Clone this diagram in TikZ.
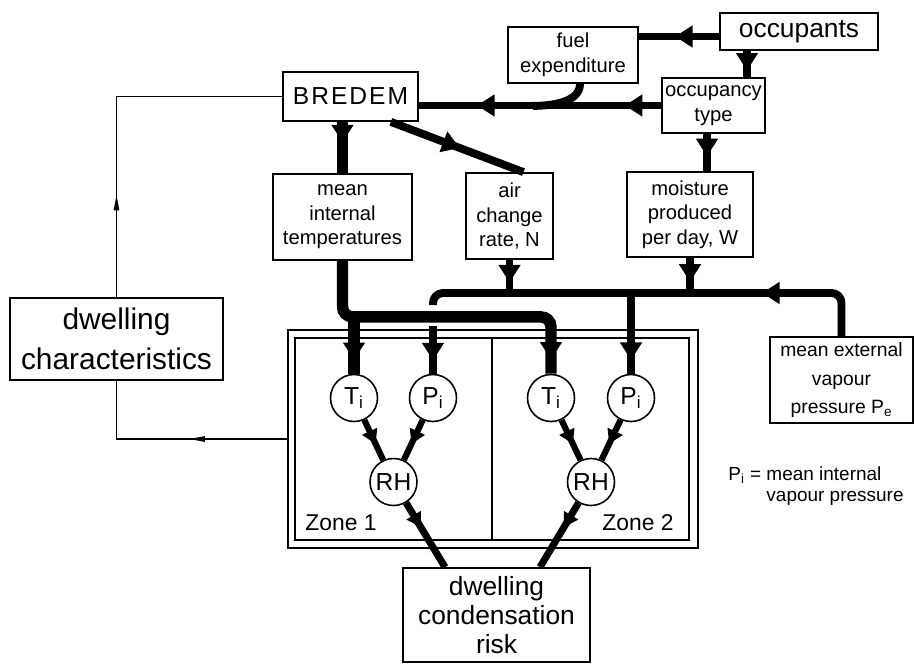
\documentclass[tikz,border=0pt]{standalone}
\usepackage{fontspec}
\setmainfont{Liberation Sans}
\newfontfamily\spacedfont{Liberation Sans}[LetterSpace=8]
\usetikzlibrary{arrows.meta, positioning, calc, decorations.markings}
\newcommand{\lowidx}[1]{\textsubscript{#1}}
\newcommand{\fsz}[2]{\fontsize{#1}{#2}\selectfont}

\begin{document}
\begin{tikzpicture}[
  x=0.02cm, y=-0.02cm,
  box/.style={rectangle, draw, line width=1pt, align=center, inner sep=1pt, font=\fsz{11.5}{14}},
  circ/.style={circle, draw, line width=0.9pt, minimum size=0.94cm, inner sep=0pt, font=\fsz{14}{15}},
  flow/.style={draw, line width=4.5pt},
  heavy/.style={draw, line width=6.5pt},
  link/.style={draw, line width=3.5pt},
  thinline/.style={draw, line width=0.9pt},
  mid/.style={postaction={decorate, decoration={markings, mark=at position #1 with {\arrow{Triangle[length=10pt, width=12pt]}}}}},
  midsm/.style={postaction={decorate, decoration={markings, mark=at position #1 with {\arrow{Triangle[length=8pt, width=9pt]}}}}},
  midthin/.style={postaction={decorate, decoration={markings, mark=at position #1 with {\arrow{Triangle[length=9pt, width=3pt]}}}}}
]
\useasboundingbox (0,0) rectangle (915,664);
% boxes
\node[box, font=\fsz{15}{16}, minimum width=3.16cm, minimum height=0.74cm] (occ) at (799,31.5) {occupants};
\node[box, minimum width=2.6cm, minimum height=1.12cm] (fuel) at (573,55) {fuel\\expenditure};
\node[box, minimum width=2.06cm, minimum height=1.1cm] (otype) at (713.5,105.5) {occupancy\\type};
\node[box, font=\spacedfont\fsz{14}{16}, minimum width=2.7cm, minimum height=0.98cm] (bredem) at (350.5,96.5) {BREDEM};
\node[box, minimum width=2.78cm, minimum height=1.72cm] (tint) at (342.5,217) {mean\\internal\\temperatures};
\node[box, minimum width=1.74cm, minimum height=1.72cm] (air) at (509.5,216) {air\\change\\rate, N};
\node[box, minimum width=2.52cm, minimum height=1.7cm] (moist) at (690,214.5) {moisture\\produced\\per day, W};
\node[box, font=\fsz{17}{22.5}, minimum width=4.26cm, minimum height=1.64cm] (dwell) at (116.5,339) {dwelling\\characteristics};
\node[box, font=\fsz{11}{16}, minimum width=2.86cm, minimum height=1.72cm] (pext) at (841.5,380) {mean external\\vapour\\pressure P\lowidx{e}};
\node[box, font=\fsz{15}{16.5}, minimum width=3.74cm, minimum height=1.88cm] (risk) at (496.5,615) {dwelling\\condensation\\risk};
% zones
\node[draw, line width=0.7pt, minimum width=8.2cm, minimum height=4.36cm] (zones) at (493,439) {};
\node[draw, line width=0.7pt, minimum width=7.88cm, minimum height=4.04cm] (inner) at (492,439) {};
\draw[line width=0.7pt] (inner.north) -- (inner.south);
\node[font=\fsz{13}{14}] (z1) at (341,523) {Zone 1};
\node[font=\fsz{13}{14}] (z2) at (638,523) {Zone 2};
\node[circ] (ti1) at (354,398) {T\lowidx{i}};
\node[circ] (pi1) at (433,398) {P\lowidx{i}};
\node[circ] (ti2) at (551,398) {T\lowidx{i}};
\node[circ] (pi2) at (631,398) {P\lowidx{i}};
\node[circ] (rh1) at (393.5,482) {RH};
\node[circ] (rh2) at (591,482) {RH};
\node[align=left, font=\fsz{10.8}{12}, anchor=north west, inner sep=0pt] (note) at (728,466) {P\lowidx{i} = mean internal\\\hphantom{P\lowidx{i} = }vapour pressure};
% top connectors
\draw[flow, mid=0.55] ([yshift=-0.1cm]occ.west) -- ([yshift=-0.1cm]occ.west -| fuel.east);
\draw[flow, mid=0.75] ([xshift=-1.04cm]occ.south) -- ([xshift=-1.04cm]occ.south |- otype.north);
\draw[flow, mid=0.15, mid=0.76] (otype.west) -- (otype.west -| bredem.east);
\draw[flow] ([xshift=0.14cm]fuel.south) .. controls +(0,18) and +(20,0) .. ($(fuel.south)+(-40,22)$);
\draw[heavy, mid=0.4] (tint.north |- bredem.south) -- (tint.north);
\draw[flow, mid=0.52] ([xshift=-0.56cm]bredem.south east) -- ([xshift=0.28cm]air.north);
\draw[flow, mid=0.6] ([xshift=-0.13cm]otype.south) -- ([xshift=-0.13cm]otype.south |- moist.north);
% bus
\coordinate (busL) at (433,293);
\draw[flow, mid=0.68] (air.south) -- (air.south |- busL);
\draw[flow, mid=0.68] (moist.south) -- (moist.south |- busL);
\draw[flow, rounded corners=0.2cm, mid=0.26] (pext.north) |- (busL) -- ++(0,12);
\draw[flow, mid=0.72] ($(busL)+(0,33)$) -- (pi1.north);
\draw[flow, mid=0.83] (pi2.north |- busL) -- (pi2.north);
% temperatures
\coordinate (tbend) at ($(tint.south)+(0,56)$);
\draw[heavy, rounded corners=0.2cm, mid=0.955] (tint.south) -- (tbend) -| (ti2.north);
\draw[heavy, mid=0.76] (tbend -| ti1.north) -- (ti1.north);
% zone links
\draw[link, midsm=0.6] (ti1) -- (rh1);
\draw[link, midsm=0.6] (pi1) -- (rh1);
\draw[link, midsm=0.6] (ti2) -- (rh2);
\draw[link, midsm=0.6] (pi2) -- (rh2);
\draw[link, line width=4pt, midsm=0.38] (rh1) -- ([xshift=-1.03cm]risk.north);
\draw[link, line width=4pt, midsm=0.38] (rh2) -- ([xshift=0.87cm]risk.north);
% thin lines
\draw[thinline, midthin=0.28] (dwell.north) |- (bredem.west);
\draw[thinline, midthin=0.43] (zones.west) -| (dwell.south);
\end{tikzpicture}
\end{document}
